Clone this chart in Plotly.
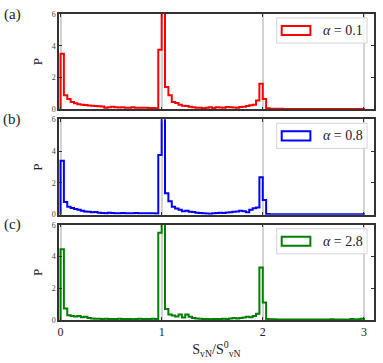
import numpy as np
import plotly.graph_objects as go
from plotly.subplots import make_subplots

# Histogram of the von Neumann entropy ratio, three values of alpha.
# 90 bins of width 1/30 between 0 and 3.
bin_edges = np.linspace(0, 3, 91)

alphas = ["0.1", "0.8", "2.8"]
panel_tags = ["(a)", "(b)", "(c)"]
colors = ["#ff0000", "#0000ff", "#008000"]

p_alpha_01 = [
    3.5, 0.88, 0.65, 0.45, 0.38, 0.32, 0.28, 0.27, 0.24, 0.22,
    0.2, 0.19, 0.17, 0.1, 0.12, 0.16, 0.13, 0.11, 0.13, 0.09,
    0.1, 0.13, 0.09, 0.1, 0.1, 0.09, 0.08, 0.08, 0.07, 3.75,
    8.0, 1.4, 0.88, 0.46, 0.4, 0.28, 0.22, 0.2, 0.16, 0.13,
    0.1, 0.09, 0.07, 0.1, 0.12, 0.08, 0.13, 0.11, 0.1, 0.14,
    0.12, 0.11, 0.1, 0.15, 0.16, 0.2, 0.25, 0.28, 0.55, 1.6,
    0.65, 0.06, 0.04, 0.03, 0.03, 0.03, 0.02, 0.02, 0.02, 0.02,
    0.02, 0.02, 0.02, 0.02, 0.02, 0.02, 0.02, 0.02, 0.02, 0.02,
    0.02, 0.02, 0.02, 0.02, 0.02, 0.02, 0.02, 0.02, 0.02, 0.02,
]

p_alpha_08 = [
    3.4, 0.8, 0.5, 0.42, 0.35, 0.3, 0.25, 0.2, 0.18, 0.15,
    0.17, 0.12, 0.1, 0.08, 0.12, 0.1, 0.08, 0.09, 0.1, 0.08,
    0.09, 0.08, 0.1, 0.09, 0.08, 0.09, 0.08, 0.09, 0.07, 3.75,
    8.0, 1.35, 0.85, 0.5, 0.38, 0.3, 0.22, 0.25, 0.18, 0.16,
    0.12, 0.1, 0.09, 0.07, 0.06, 0.08, 0.1, 0.12, 0.1, 0.13,
    0.15, 0.18, 0.2, 0.25, 0.22, 0.15, 0.3, 0.4, 0.45, 2.35,
    0.92, 0.04, 0.03, 0.03, 0.03, 0.02, 0.02, 0.02, 0.02, 0.02,
    0.02, 0.02, 0.02, 0.02, 0.02, 0.02, 0.02, 0.02, 0.02, 0.02,
    0.02, 0.02, 0.02, 0.02, 0.02, 0.02, 0.02, 0.02, 0.02, 0.02,
]

p_alpha_28 = [
    4.45, 0.72, 0.3, 0.25, 0.22, 0.25, 0.18, 0.2, 0.12, 0.1,
    0.08, 0.08, 0.06, 0.08, 0.06, 0.07, 0.06, 0.08, 0.06, 0.07,
    0.06, 0.05, 0.07, 0.08, 0.06, 0.07, 0.06, 0.08, 0.06, 5.5,
    8.5, 0.7, 0.35, 0.28, 0.22, 0.35, 0.15, 0.35, 0.2, 0.12,
    0.1, 0.08, 0.07, 0.06, 0.05, 0.06, 0.07, 0.06, 0.08, 0.07,
    0.1, 0.12, 0.1, 0.12, 0.15, 0.2, 0.18, 0.25, 0.4, 3.3,
    1.1, 0.06, 0.04, 0.04, 0.03, 0.03, 0.03, 0.03, 0.03, 0.03,
    0.03, 0.03, 0.03, 0.03, 0.03, 0.03, 0.03, 0.03, 0.03, 0.03,
    0.04, 0.03, 0.03, 0.03, 0.03, 0.03, 0.06, 0.03, 0.04, 0.08,
]

series = [p_alpha_01, p_alpha_08, p_alpha_28]

serif = "Liberation Serif"

fig = make_subplots(rows=3, cols=1, shared_xaxes=True, vertical_spacing=0.033)

for i, (vals, color) in enumerate(zip(series, colors)):
    # step outline like matplotlib histtype="step"
    xs = [bin_edges[0]] + list(bin_edges[:-1]) + [bin_edges[-1], bin_edges[-1]]
    ys = [0] + list(vals) + [vals[-1], 0]
    fig.add_trace(
        go.Scatter(
            x=xs, y=ys, mode="lines", line_shape="hv",
            line=dict(color=color, width=2), showlegend=False, hoverinfo="skip",
        ),
        row=i + 1, col=1,
    )

    xd = "x domain" if i == 0 else f"x{i + 1} domain"
    yd = "y domain" if i == 0 else f"y{i + 1} domain"

    # hand made legend box
    fig.add_shape(
        type="rect", xref=xd, yref=yd, x0=0.691, x1=0.978, y0=0.695, y1=0.958,
        line=dict(color="#d5d5d5", width=1), fillcolor="rgba(255,255,255,0.8)",
    )
    fig.add_shape(
        type="rect", xref=xd, yref=yd, x0=0.707, x1=0.798, y0=0.779, y1=0.874,
        line=dict(color=color, width=2), fillcolor="rgba(0,0,0,0)",
    )
    fig.add_annotation(
        xref=xd, yref=yd, x=0.9, y=0.826, showarrow=False,
        xanchor="center", yanchor="middle",
        text=f"<i>α</i> = {alphas[i]}", font=dict(family=serif, size=14, color="#222"),
    )
    fig.add_annotation(
        xref="paper", yref=yd, x=-0.148, y=1.0, showarrow=False,
        xanchor="center", yanchor="middle",
        text=panel_tags[i], font=dict(family=serif, size=15, color="#222"),
    )

fig.update_xaxes(
    range=[-0.015, 3.1], tickvals=[0, 1, 2, 3],
    showgrid=True, gridcolor="#d3d3d3", gridwidth=1.5, zeroline=False,
    showline=True, linecolor="#333", linewidth=1.5, mirror="ticks",
    ticks="inside", ticklen=3, tickcolor="#333",
    tickfont=dict(family=serif, size=12, color="#222"),
)
fig.update_yaxes(
    range=[0, 6], tickvals=[0, 2, 4, 6], showgrid=False, zeroline=False,
    showline=True, linecolor="#333", linewidth=1.5, mirror="ticks",
    ticks="inside", ticklen=3, tickcolor="#333",
    tickfont=dict(family=serif, size=8, color="#444"),
    title=dict(text="P", font=dict(family=serif, size=13, color="#222"), standoff=6),
)
fig.update_xaxes(
    title=dict(
        text="S<sub>vN</sub>/S<sup>0</sup><sub>vN</sub>",
        font=dict(family=serif, size=14, color="#222"), standoff=6,
    ),
    row=3, col=1,
)

fig.update_layout(
    width=383, height=363,
    margin=dict(l=59, r=7, t=14, b=43),
    plot_bgcolor="white", paper_bgcolor="white",
    showlegend=False,
)

# drop the default page margin so the figure sits at the window corner
fig.write_html(
    "out.html",
    config={"displayModeBar": False},
    post_script="document.body.style.margin='0';",
)
